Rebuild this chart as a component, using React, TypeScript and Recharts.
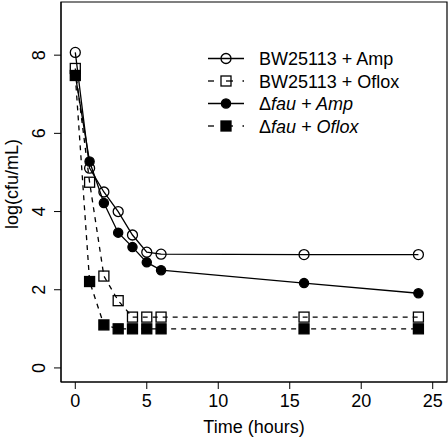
import React from 'react';
import { LineChart, Line, XAxis, YAxis, ReferenceArea, Legend, Label } from 'recharts';

// sampling times (hours) and log(cfu/mL)
const hours = [0, 1, 2, 3, 4, 5, 6, 16, 24];
const bwAmp = [8.07, 5.11, 4.5, 4.0, 3.4, 2.96, 2.91, 2.9, 2.9];
const bwOflox = [7.66, 4.75, 2.35, 1.72, 1.3, 1.3, 1.3, 1.3, 1.3];
const fauAmp = [7.49, 5.28, 4.22, 3.46, 3.09, 2.7, 2.5, 2.17, 1.91];
const fauOflox = [7.48, 2.21, 1.1, 1.0, 1.0, 1.0, 1.0, 1.0, 1.0];

const xTicks = [0, 5, 10, 15, 20, 25];
const yTicks = [0, 2, 4, 6, 8];

const rows = hours.map((t, i) => ({
  t,
  bwAmp: bwAmp[i],
  bwOflox: bwOflox[i],
  fauAmp: fauAmp[i],
  fauOflox: fauOflox[i],
}));

const FONT = '"Liberation Sans", Arial, Helvetica, sans-serif';
const SW = 1.3;

const openCircle = (p: any) => (
  <circle key={`oc-${p.index}`} cx={p.cx} cy={p.cy} r={5} fill="none" stroke="#000" strokeWidth={SW} />
);
const filledCircle = (p: any) => (
  <circle key={`fc-${p.index}`} cx={p.cx} cy={p.cy} r={4.6} fill="#000" stroke="#000" strokeWidth={SW} />
);
const openSquare = (p: any) => (
  <rect key={`os-${p.index}`} x={p.cx - 5} y={p.cy - 5} width={10} height={10} fill="none" stroke="#000" strokeWidth={SW} />
);
const filledSquare = (p: any) => (
  <rect key={`fs-${p.index}`} x={p.cx - 5} y={p.cy - 5} width={10} height={10} fill="#000" stroke="#000" strokeWidth={SW} />
);

const YTick = (p: any) => {
  const tx = 45;
  return (
    <text x={tx} y={p.y} transform={`rotate(-90, ${tx}, ${p.y})`} textAnchor="middle" fontSize={18} fill="#000" fontFamily={FONT}>
      {p.payload.value}
    </text>
  );
};

const legendRows = [
  { label: 'BW25113 + Amp', dashed: false, marker: 'oc' },
  { label: 'BW25113 + Oflox', dashed: true, marker: 'os' },
  { label: 'fau + Amp', dashed: false, marker: 'fc', delta: true },
  { label: 'fau + Oflox', dashed: true, marker: 'fs', delta: true },
];

const LegendBox = () => (
  <svg width={240} height={100} style={{ display: 'block' }}>
    {legendRows.map((r, i) => {
      const y = 13.5 + i * 22.5;
      const mx = 26;
      return (
        <g key={r.label}>
          {r.dashed ? (
            <g stroke="#000" strokeWidth={SW}>
              <line x1={8} y1={y} x2={14} y2={y} />
              <line x1={mx} y1={y} x2={33} y2={y} />
              <line x1={42.5} y1={y} x2={44} y2={y} />
            </g>
          ) : (
            <line x1={8} y1={y} x2={44} y2={y} stroke="#000" strokeWidth={SW} />
          )}
          {r.marker === 'oc' && <circle cx={mx} cy={y} r={5} fill="none" stroke="#000" strokeWidth={SW} />}
          {r.marker === 'fc' && <circle cx={mx} cy={y} r={4.6} fill="#000" stroke="#000" strokeWidth={SW} />}
          {r.marker === 'os' && <rect x={mx - 5} y={y - 5} width={10} height={10} fill="none" stroke="#000" strokeWidth={SW} />}
          {r.marker === 'fs' && <rect x={mx - 5} y={y - 5} width={10} height={10} fill="#000" stroke="#000" strokeWidth={SW} />}
          <text x={59} y={y + 6.5} fontSize={18} fill="#000" fontFamily={FONT}>
            {r.delta ? (
              <>
                <tspan>Δ</tspan>
                <tspan fontStyle="italic">{r.label}</tspan>
              </>
            ) : (
              r.label
            )}
          </text>
        </g>
      );
    })}
  </svg>
);

const App: React.FC = () => {
  return (
    <div style={{ position: 'absolute', left: 0, top: 0, width: 448, height: 438, background: '#fff', fontFamily: FONT }}>
      <LineChart width={448} height={438} data={rows} margin={{ top: 2, right: 1, left: 0, bottom: 0 }}>
        <XAxis
          dataKey="t"
          type="number"
          domain={[-1, 26]}
          ticks={xTicks}
          allowDataOverflow
          height={56}
          tickSize={7}
          tickMargin={5}
          stroke="#000"
          tick={{ fill: '#000', fontSize: 18, fontFamily: FONT }}
          label={{ value: 'Time (hours)', position: 'insideBottom', offset: 5, fill: '#000', fontSize: 18, fontFamily: FONT }}
        />
        <YAxis
          type="number"
          domain={[-0.36, 9.36]}
          ticks={yTicks}
          allowDataOverflow
          width={61}
          tickSize={7}
          stroke="#000"
          tick={YTick}
        >
          <Label
            content={() => (
              <text x={18} y={184} transform="rotate(-90, 18, 184)" textAnchor="middle" fontSize={18} fill="#000" fontFamily={FONT}>
                log(cfu/mL)
              </text>
            )}
          />
        </YAxis>
        <ReferenceArea x1={-1} x2={26} y1={-0.36} y2={9.36} fill="none" stroke="#000" strokeWidth={1.2} ifOverflow="visible" />
        <Line dataKey="bwAmp" stroke="#000" strokeWidth={SW} dot={openCircle} activeDot={false} isAnimationActive={false} />
        <Line dataKey="bwOflox" stroke="#000" strokeWidth={SW} strokeDasharray="5 5" dot={openSquare} activeDot={false} isAnimationActive={false} />
        <Line dataKey="fauAmp" stroke="#000" strokeWidth={SW} dot={filledCircle} activeDot={false} isAnimationActive={false} />
        <Line dataKey="fauOflox" stroke="#000" strokeWidth={SW} strokeDasharray="5 5" dot={filledSquare} activeDot={false} isAnimationActive={false} />
        <Legend
          layout="vertical"
          align="center"
          verticalAlign="middle"
          wrapperStyle={{ left: 200, top: 45, width: 240, height: 100 }}
          content={LegendBox}
        />
      </LineChart>
    </div>
  );
};

export default App;
